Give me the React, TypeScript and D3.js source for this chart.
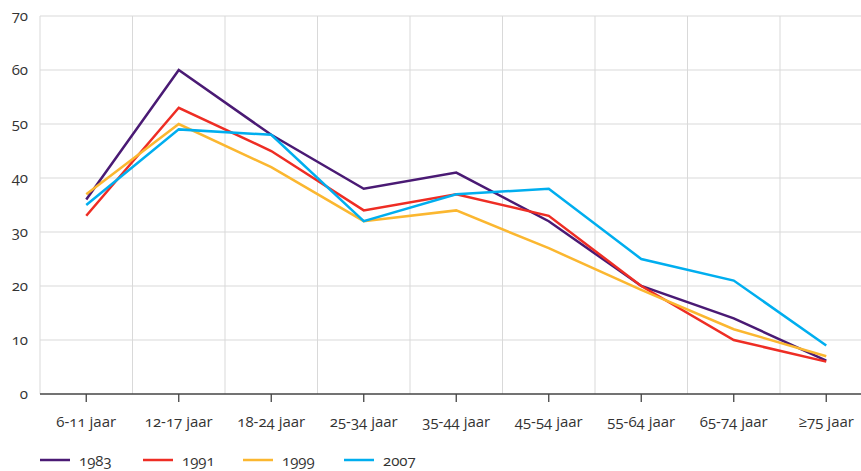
import React from "react";
import * as d3 from "d3";

const categories = ["6-11 jaar", "12-17 jaar", "18-24 jaar", "25-34 jaar", "35-44 jaar", "45-54 jaar", "55-64 jaar", "65-74 jaar", "≥75 jaar"];
const s1983 = [36, 60, 48, 38, 41, 32, 20, 14, 6.2];
const s1991 = [33, 53, 45, 34, 37, 33, 20, 10, 6];
const s1999 = [37, 50, 42, 32, 34, 27, 19.3, 12, 7];
const s2007 = [35, 49, 48, 32, 37, 38, 25, 21, 9];
const yTicks = [0, 10, 20, 30, 40, 50, 60, 70];
const seriesNames = ["1983", "1991", "1999", "2007"];
const seriesColors = ["#4a1a74", "#ee2d24", "#fbb730", "#00aeef"];

export default function App() {
  const W = 861, H = 471;
  const left = 40, right = 872.5, top = 16, bottom = 394;
  const x = d3.scaleBand<string>().domain(categories).range([left, right]);
  const y = d3.scaleLinear().domain([0, 70]).range([bottom, top]);
  const series = [s1983, s1991, s1999, s2007];
  const line = d3.line<number>().x((_, i) => (x(categories[i]) as number) + x.bandwidth() / 2).y((d) => y(d));
  const font = "'Open Sans', 'Noto Sans', sans-serif";
  const legendX = [40, 143, 243, 344];
  return (
    <svg width={W} height={H} style={{ position: "absolute", left: 0, top: 0, fontFamily: font, fontVariantNumeric: "oldstyle-nums" }}>
      <rect width={W} height={H} fill="#fff" />
      {yTicks.map((t) => (
        <g key={t}>
          {t > 0 && <line x1={left} x2={W} y1={y(t)} y2={y(t)} stroke="#d9d9d9" strokeWidth={1} />}
          <text x={28} y={y(t) + 5} textAnchor="end" fontSize={15} fill="#333">{t}</text>
        </g>
      ))}
      {categories.map((c) => (
        <line key={"v" + c} x1={x(c) as number} x2={x(c) as number} y1={top} y2={bottom} stroke="#d9d9d9" strokeWidth={1} />
      ))}
      <line x1={left} x2={W} y1={bottom} y2={bottom} stroke="#444" strokeWidth={1.3} />
      {categories.map((c) => {
        const cx = (x(c) as number) + x.bandwidth() / 2;
        return (
          <g key={"t" + c}>
            <line x1={cx} x2={cx} y1={bottom} y2={bottom + 8} stroke="#444" strokeWidth={1.3} />
            <text x={cx} y={427} textAnchor="middle" fontSize={15} fill="#333">{c}</text>
          </g>
        );
      })}
      {series.map((s, i) => (
        <path key={seriesNames[i]} d={line(s) || ""} fill="none" stroke={seriesColors[i]} strokeWidth={2.5} strokeLinejoin="miter" />
      ))}
      {seriesNames.map((n, i) => (
        <g key={"l" + n}>
          <line x1={legendX[i]} x2={legendX[i] + 30} y1={460} y2={460} stroke={seriesColors[i]} strokeWidth={2.5} />
          <text x={legendX[i] + 39} y={466} fontSize={15} fill="#333">{n}</text>
        </g>
      ))}
    </svg>
  );
}
